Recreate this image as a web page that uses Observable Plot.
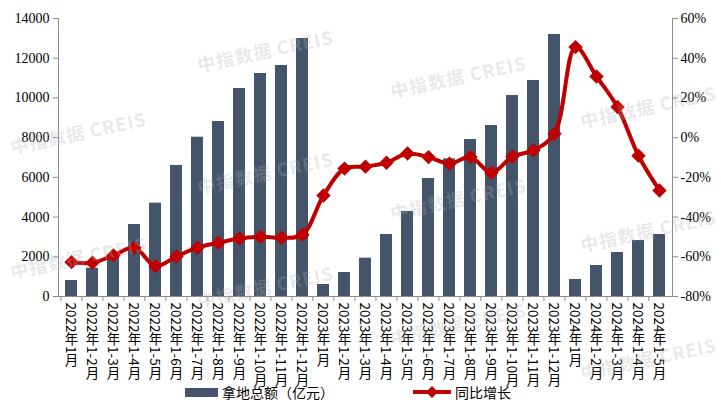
<!DOCTYPE html>
<html>
<head>
<meta charset="utf-8">
<script src="https://cdn.jsdelivr.net/npm/d3@7"></script>
<script src="https://cdn.jsdelivr.net/npm/@observablehq/plot@0.6"></script>
<style>
  body { margin: 0; background: #fff; }
  #wrap { position: relative; width: 721px; height: 409px; overflow: hidden; background: #fff; }
  #wrap svg { display: block; }
  .wm { position: absolute; font: bold 18px "Noto Sans CJK SC", sans-serif; color: rgba(175,175,175,0.28);
        transform: translate(-50%, -50%) rotate(-12deg); white-space: nowrap; pointer-events: none; letter-spacing: 1px; }
  .lg { position: absolute; font: 14px "Noto Sans CJK SC", sans-serif; color: #000; line-height: 16px; white-space: nowrap; }
</style>
</head>
<body>
<div id="wrap"></div>
<script>
// ---- data ----
const months = [
  "2022年1月","2022年1-2月","2022年1-3月","2022年1-4月","2022年1-5月","2022年1-6月",
  "2022年1-7月","2022年1-8月","2022年1-9月","2022年1-10月","2022年1-11月","2022年1-12月",
  "2023年1月","2023年1-2月","2023年1-3月","2023年1-4月","2023年1-5月","2023年1-6月",
  "2023年1-7月","2023年1-8月","2023年1-9月","2023年1-10月","2023年1-11月","2023年1-12月",
  "2024年1月","2024年1-2月","2024年1-3月","2024年1-4月","2024年1-5月"
];
const amounts = [806, 1425, 1980, 3626, 4700, 6597, 8023, 8813, 10475, 11230, 11633, 12993,
                 604, 1209, 1930, 3122, 4280, 5942, 6933, 7907, 8612, 10122, 10878, 13194,
                 856, 1561, 2216, 2820, 3122];
const growth = [-62.7, -63.0, -59.3, -55.4, -64.7, -59.8, -55.4, -52.9, -50.8, -49.9, -50.4, -48.9,
                -29.1, -15.6, -14.6, -12.6, -8.0, -9.8, -13.1, -9.8, -17.7, -9.5, -6.4, 2.0,
                45.6, 30.8, 15.4, -9.1, -26.6];
const leftTicks = [0, 2000, 4000, 6000, 8000, 10000, 12000, 14000];
const rightTicks = [-80, -60, -40, -20, 0, 20, 40, 60];
const seriesNames = ["拿地总额（亿元）", "同比增长"];
const watermarkText = "中指数据 CREIS";

// ---- chart ----
const W = 721, H = 409, ML = 58, MR = 49, MT = 18, MB = 113;
const step = (W - ML - MR) / months.length;
const toY = p => (p + 80) * 100;   // map right axis (-80..60 %) onto left domain (0..14000)
const data = months.map((m, i) => ({month: m, amount: amounts[i], growth: growth[i]}));
const gray = "#8c8c8c";
const serif = "Liberation Serif, serif";

const chart = Plot.plot({
  width: W, height: H, marginLeft: ML, marginRight: MR, marginTop: MT, marginBottom: MB,
  style: {background: "transparent", fontFamily: serif, fontSize: "14px", color: "#000"},
  x: {type: "band", domain: months, paddingInner: 0.43, paddingOuter: 0.215, axis: null},
  y: {domain: [0, 14000], axis: null},
  marks: [
    Plot.barY(data, {x: "month", y: "amount", fill: "#44546a"}),
    Plot.frame({anchor: "left", stroke: gray}),
    Plot.frame({anchor: "right", stroke: gray}),
    Plot.ruleY([0], {stroke: gray}),
    Plot.axisY({anchor: "left", ticks: leftTicks, tickFormat: d => String(d), tickSize: 5, tickPadding: 4,
                label: null, stroke: gray, fontSize: 14, fontFamily: serif, fill: "#000"}),
    Plot.axisY({anchor: "right", ticks: rightTicks.map(toY), tickFormat: d => `${Math.round(d / 100 - 80)}%`,
                tickSize: 5, tickPadding: 3, label: null, stroke: gray, fontSize: 14, fontFamily: serif, fill: "#000"}),
    Plot.axisX({tickSize: 5, tickFormat: () => "", dx: -step / 2, stroke: gray, label: null}),
    Plot.axisX({tickSize: 0, tickPadding: 6, label: null, fontSize: 13.5, fill: "#000",
                fontFamily: "Noto Sans CJK SC, sans-serif"}),
    Plot.line(data, {x: "month", y: d => toY(d.growth), stroke: "#c00000", strokeWidth: 4,
                     curve: "catmull-rom", strokeLinejoin: "round"}),
    Plot.dot(data, {x: "month", y: d => toY(d.growth), symbol: "diamond2", r: 6.5, fill: "#c00000", stroke: "none"})
  ]
});

// vertical (top-to-bottom) category labels
d3.select(chart).selectAll('g[aria-label="x-axis tick label"] text')
  .attr("y", null).attr("dy", null)
  .attr("text-anchor", "start")
  .style("writing-mode", "vertical-rl");

const wrap = document.getElementById("wrap");
wrap.appendChild(chart);

// legend
const lg1 = document.createElement("div");
lg1.style.cssText = "position:absolute;left:185px;top:388px;width:33px;height:9px;background:#44546a;";
wrap.appendChild(lg1);
const t1 = document.createElement("div");
t1.className = "lg"; t1.style.left = "222px"; t1.style.top = "384px"; t1.textContent = seriesNames[0];
wrap.appendChild(t1);
const ls = d3.create("svg").attr("width", 40).attr("height", 14)
  .style("position", "absolute").style("left", "412px").style("top", "385px");
ls.append("line").attr("x1", 1).attr("x2", 39).attr("y1", 7).attr("y2", 7)
  .attr("stroke", "#c00000").attr("stroke-width", 4);
ls.append("path").attr("d", "M20,1L26,7L20,13L14,7Z").attr("fill", "#c00000");
wrap.appendChild(ls.node());
const t2 = document.createElement("div");
t2.className = "lg"; t2.style.left = "455px"; t2.style.top = "384px"; t2.textContent = seriesNames[1];
wrap.appendChild(t2);

// watermarks
const wmPos = [[78, 132], [78, 257], [265, 50], [265, 172], [265, 286],
               [458, 76], [458, 198], [458, 323], [648, 106], [648, 230], [648, 358]];
wmPos.forEach(([x, y]) => {
  const d = document.createElement("div");
  d.className = "wm"; d.style.left = x + "px"; d.style.top = y + "px"; d.textContent = watermarkText;
  wrap.appendChild(d);
});
</script>
</body>
</html>
